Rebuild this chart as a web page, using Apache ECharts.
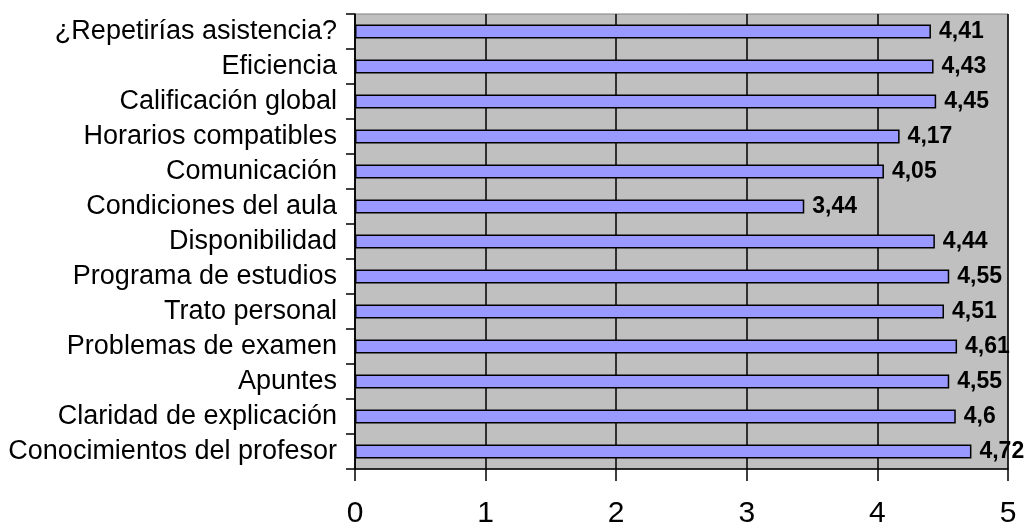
<!DOCTYPE html>
<html><head><meta charset="utf-8">
<script src="https://cdn.jsdelivr.net/npm/echarts@6/dist/echarts.min.js"></script>
<style>html,body{margin:0;padding:0;background:#fff}#c{width:1029px;height:529px}</style>
</head><body><div id="c"></div>
<script>
const categories = ["¿Repetirías asistencia?","Eficiencia","Calificación global","Horarios compatibles","Comunicación","Condiciones del aula","Disponibilidad","Programa de estudios","Trato personal","Problemas de examen","Apuntes","Claridad de explicación","Conocimientos del profesor"];
const values = [4.41,4.43,4.45,4.17,4.05,3.44,4.44,4.55,4.51,4.61,4.55,4.6,4.72];
const ticks = [0,1,2,3,4,5];
const chart = echarts.init(document.getElementById('c'));
chart.setOption({
  animation:false,
  grid:{left:355,top:14,right:21,bottom:52,show:true,backgroundColor:'#C0C0C0',borderColor:'#808080',borderWidth:1},
  xAxis:{type:'value',min:0,max:5,interval:1,
    axisLine:{show:true,lineStyle:{color:'#000',width:1.5}},
    axisTick:{show:true,length:12,lineStyle:{color:'#000',width:1.5}},
    axisLabel:{color:'#000',fontSize:30,fontFamily:'Liberation Sans, Arial',margin:30,formatter:v=>String(v)},
    splitLine:{show:true,lineStyle:{color:'#000',width:1.5}}},
  yAxis:{type:'category',data:categories,inverse:true,
    axisLine:{show:true,lineStyle:{color:'#000',width:1.5}},
    axisTick:{show:true,length:9,interval:0,lineStyle:{color:'#000',width:1.5}},
    axisLabel:{color:'#000',fontSize:27,fontFamily:'Liberation Sans, Arial',margin:18,interval:0}},
  series:[{type:'bar',data:values,barWidth:14,
    itemStyle:{color:'#9999FF',borderColor:'#000',borderWidth:1.5},
    label:{show:true,position:'right',distance:8,color:'#000',fontWeight:'bold',fontSize:23,fontFamily:'Liberation Sans, Arial',
      formatter:p=>String(p.value).replace('.',',')}}]
});
</script></body></html>
